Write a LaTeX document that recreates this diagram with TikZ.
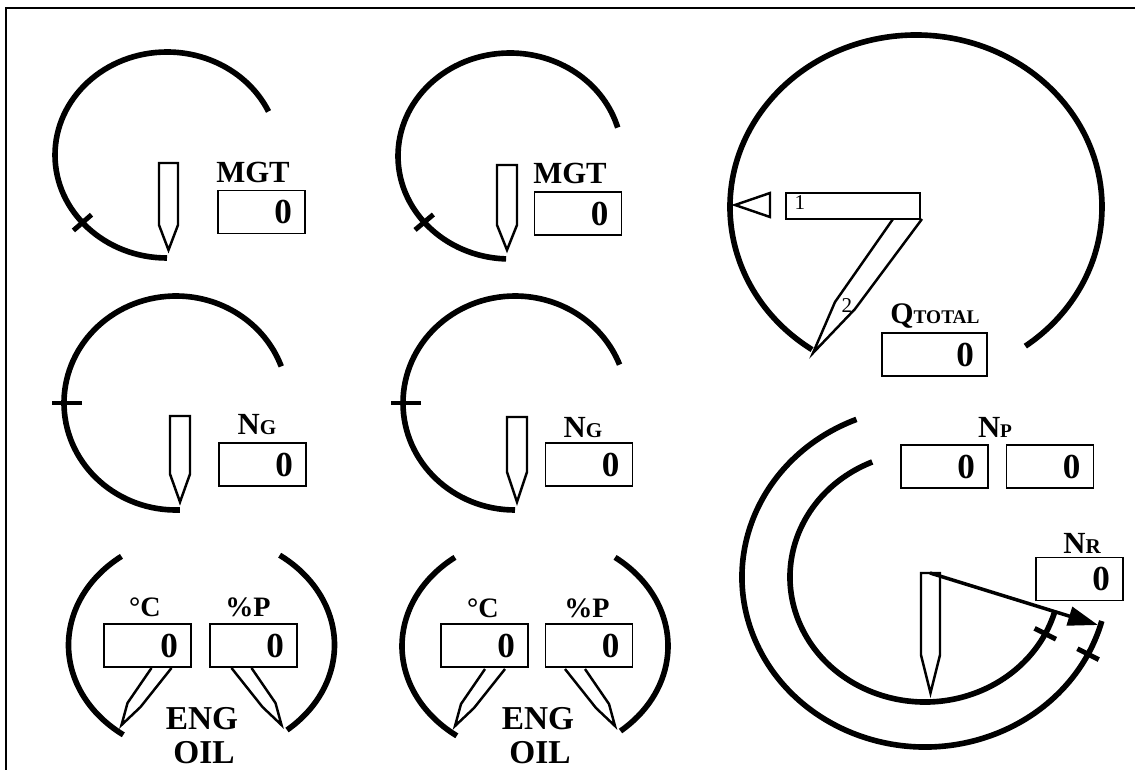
\documentclass[tikz,border=0pt]{standalone}
\usepackage{fontspec}
\setmainfont{Liberation Serif}
\usetikzlibrary{arrows.meta}

\begin{document}
\begin{tikzpicture}[x=0.02cm, y=-0.02cm,
  dial/.style={line width=3.2pt},
  tickmark/.style={line width=2.8pt},
  needle/.style={line width=1.4pt},
  pointer/.style={line width=2pt, -{Triangle[length=0.6cm, width=0.38cm]}},
  readout/.style={draw, line width=1.1pt, minimum height=0.86cm, text width=1.22cm,
    inner xsep=0.26cm, inner ysep=0pt, align=right,
    font=\fontsize{20}{20}\selectfont\bfseries},
  gaugename/.style={font=\fontsize{17.5}{17.5}\selectfont\bfseries},
  unitname/.style={font=\fontsize{16}{16}\selectfont\bfseries}]

  \useasboundingbox (0,0) rectangle (1135,770);

  % Frame (left and top edges only).
  \draw[line width=1.2pt] (6,770) -- (6,8) -- (1135,8);

  % MGT dials, top row.
  \draw[dial] ([shift={(167,155)}]90:112 and 103)
    arc[start angle=90, end angle=335, x radius=112, y radius=103];
  \draw[tickmark] ([shift={(167,155)}]139:100 and 91) -- ([shift={(167,155)}]139:124 and 115);
  \draw[needle] (159,163) -- ++(19,0) -- ++(0,62) -- ++(-9.5,25) -- ++(-9.5,-25) -- cycle;
  \node[gaugename] (mgtAlbl) at (253,172) {MGT};
  \node[readout] (mgtA) at (261.5,212) {0};

  \draw[dial] ([shift={(510,156)}]92:112 and 103)
    arc[start angle=92, end angle=344, x radius=112, y radius=103];
  \draw[tickmark] ([shift={(510,156)}]140:100 and 91) -- ([shift={(510,156)}]140:124 and 115);
  \draw[needle] (497,165) -- ++(20,0) -- ++(0,60) -- ++(-10,25) -- ++(-10,-25) -- cycle;
  \node[gaugename] (mgtBlbl) at (570,173) {MGT};
  \node[readout] (mgtB) at (578,213.5) {0};

  % NG dials, middle row.
  \draw[dial] ([shift={(176,403)}]88:112 and 107)
    arc[start angle=88, end angle=340, x radius=112, y radius=107];
  \draw[tickmark] ([shift={(176,403)}]180:94 and 89) -- ([shift={(176,403)}]180:124 and 119);
  \draw[needle] (170,416) -- ++(20,0) -- ++(0,58) -- ++(-10,28) -- ++(-10,-28) -- cycle;
  \node[gaugename] (ngAlbl) at (257,425) {N{\fontsize{12}{12}\selectfont G}};
  \node[readout] (ngA) at (262.5,464.5) {0};

  \draw[dial] ([shift={(515,403)}]90:112 and 107)
    arc[start angle=90, end angle=339, x radius=112, y radius=107];
  \draw[tickmark] ([shift={(515,403)}]180:94 and 89) -- ([shift={(515,403)}]180:124 and 119);
  \draw[needle] (507,417) -- ++(20,0) -- ++(0,55) -- ++(-10,30) -- ++(-10,-30) -- cycle;
  \node[gaugename] (ngBlbl) at (583,428) {N{\fontsize{12}{12}\selectfont G}};
  \node[readout] (ngB) at (589,464.5) {0};

  % Engine oil dials, bottom row.
  \draw[dial] ([shift={(201.5,645)}]126:133 and 111)
    arc[start angle=126, end angle=233, x radius=133, y radius=111];
  \draw[dial] ([shift={(201.5,645)}]-54:133 and 111)
    arc[start angle=-54, end angle=50, x radius=133, y radius=111];
  \draw[needle] (151.5,668) -- (127.5,703) -- (121.5,725) -- (140.5,707) -- (171.5,668);
  \draw[needle] (251.5,668) -- (275.5,703) -- (281.5,725) -- (262.5,707) -- (231.5,668);
  \node[unitname] (oiltAlbl) at (145,607) {°C};
  \node[unitname] (oilpAlbl) at (248,607) {\%P};
  \node[readout] (oiltA) at (147.5,645.5) {0};
  \node[readout] (oilpA) at (253.5,645.5) {0};
  \node[font=\fontsize{19}{19}\selectfont\bfseries] (engA) at (202,719) {ENG};
  \node[font=\fontsize{19}{19}\selectfont\bfseries] (oilA) at (204,753) {OIL};

  \draw[dial] ([shift={(535,646)}]126:133 and 111)
    arc[start angle=126, end angle=233, x radius=133, y radius=111];
  \draw[dial] ([shift={(535,646)}]-53:133 and 111)
    arc[start angle=-53, end angle=50, x radius=133, y radius=111];
  \draw[needle] (485,669) -- (461,704) -- (455,726) -- (474,708) -- (505,669);
  \draw[needle] (585,669) -- (609,704) -- (615,726) -- (596,708) -- (565,669);
  \node[unitname] (oiltBlbl) at (483,608) {°C};
  \node[unitname] (oilpBlbl) at (587,608) {\%P};
  \node[readout] (oiltB) at (484.5,645.5) {0};
  \node[readout] (oilpB) at (589,645.5) {0};
  \node[font=\fontsize{19}{19}\selectfont\bfseries] (engB) at (538,719) {ENG};
  \node[font=\fontsize{19}{19}\selectfont\bfseries] (oilB) at (540,753) {OIL};

  % Torque dial, top right.
  \draw[dial] ([shift={(916,207)}]124:186 and 172)
    arc[start angle=124, end angle=414, x radius=186, y radius=172];
  \draw[needle] (735,205) -- (770,193) -- (770,217) -- cycle;
  \draw[needle] (786,193) rectangle (920,219);
  \draw[needle] (893,219) -- (835,302) -- (813,353) -- (855,309) -- (922,219);
  \node[font=\fontsize{12}{12}\selectfont, inner sep=0pt] (qone) at (800,203) {1};
  \node[font=\fontsize{12}{12}\selectfont, inner sep=0pt] (qtwo) at (847,306) {2};
  \node[font=\fontsize{17}{17}\selectfont\bfseries] (qtotallbl) at (935,316)
    {Q{\fontsize{11}{11}\selectfont TOTAL}};
  \node[readout, text width=1.58cm] (qtotal) at (934.5,354.5) {0};

  % Rotor and power turbine dial, bottom right.
  \draw[dial] ([shift={(925,577)}]248:183 and 170)
    arc[start angle=248, end angle=15, x radius=183, y radius=170];
  \draw[dial] ([shift={(925,577)}]247:135 and 125)
    arc[start angle=247, end angle=16, x radius=135, y radius=125];
  \draw[tickmark] ([shift={(925,577)}]27:123 and 113) -- ([shift={(925,577)}]27:147 and 137);
  \draw[tickmark] ([shift={(925,577)}]27:171 and 158) -- ([shift={(925,577)}]27:195 and 182);
  \draw[needle] (921,573) -- ++(19,0) -- ++(0,82) -- ++(-9.5,38) -- ++(-9.5,-38) -- cycle;
  \coordinate (nrpivot) at (930,573);
  \coordinate (nrtip) at (1098,625);
  \draw[pointer] (nrpivot) -- (nrtip);
  \node[gaugename] (nplbl) at (995,427) {N{\fontsize{11}{11}\selectfont P}};
  \node[readout] (npA) at (944.5,466.5) {0};
  \node[readout] (npB) at (1050,466.5) {0};
  \node[gaugename] (nrlbl) at (1082,543) {N{\fontsize{12}{12}\selectfont R}};
  \node[readout] (nr) at (1079.5,579) {0};

\end{tikzpicture}
\end{document}
